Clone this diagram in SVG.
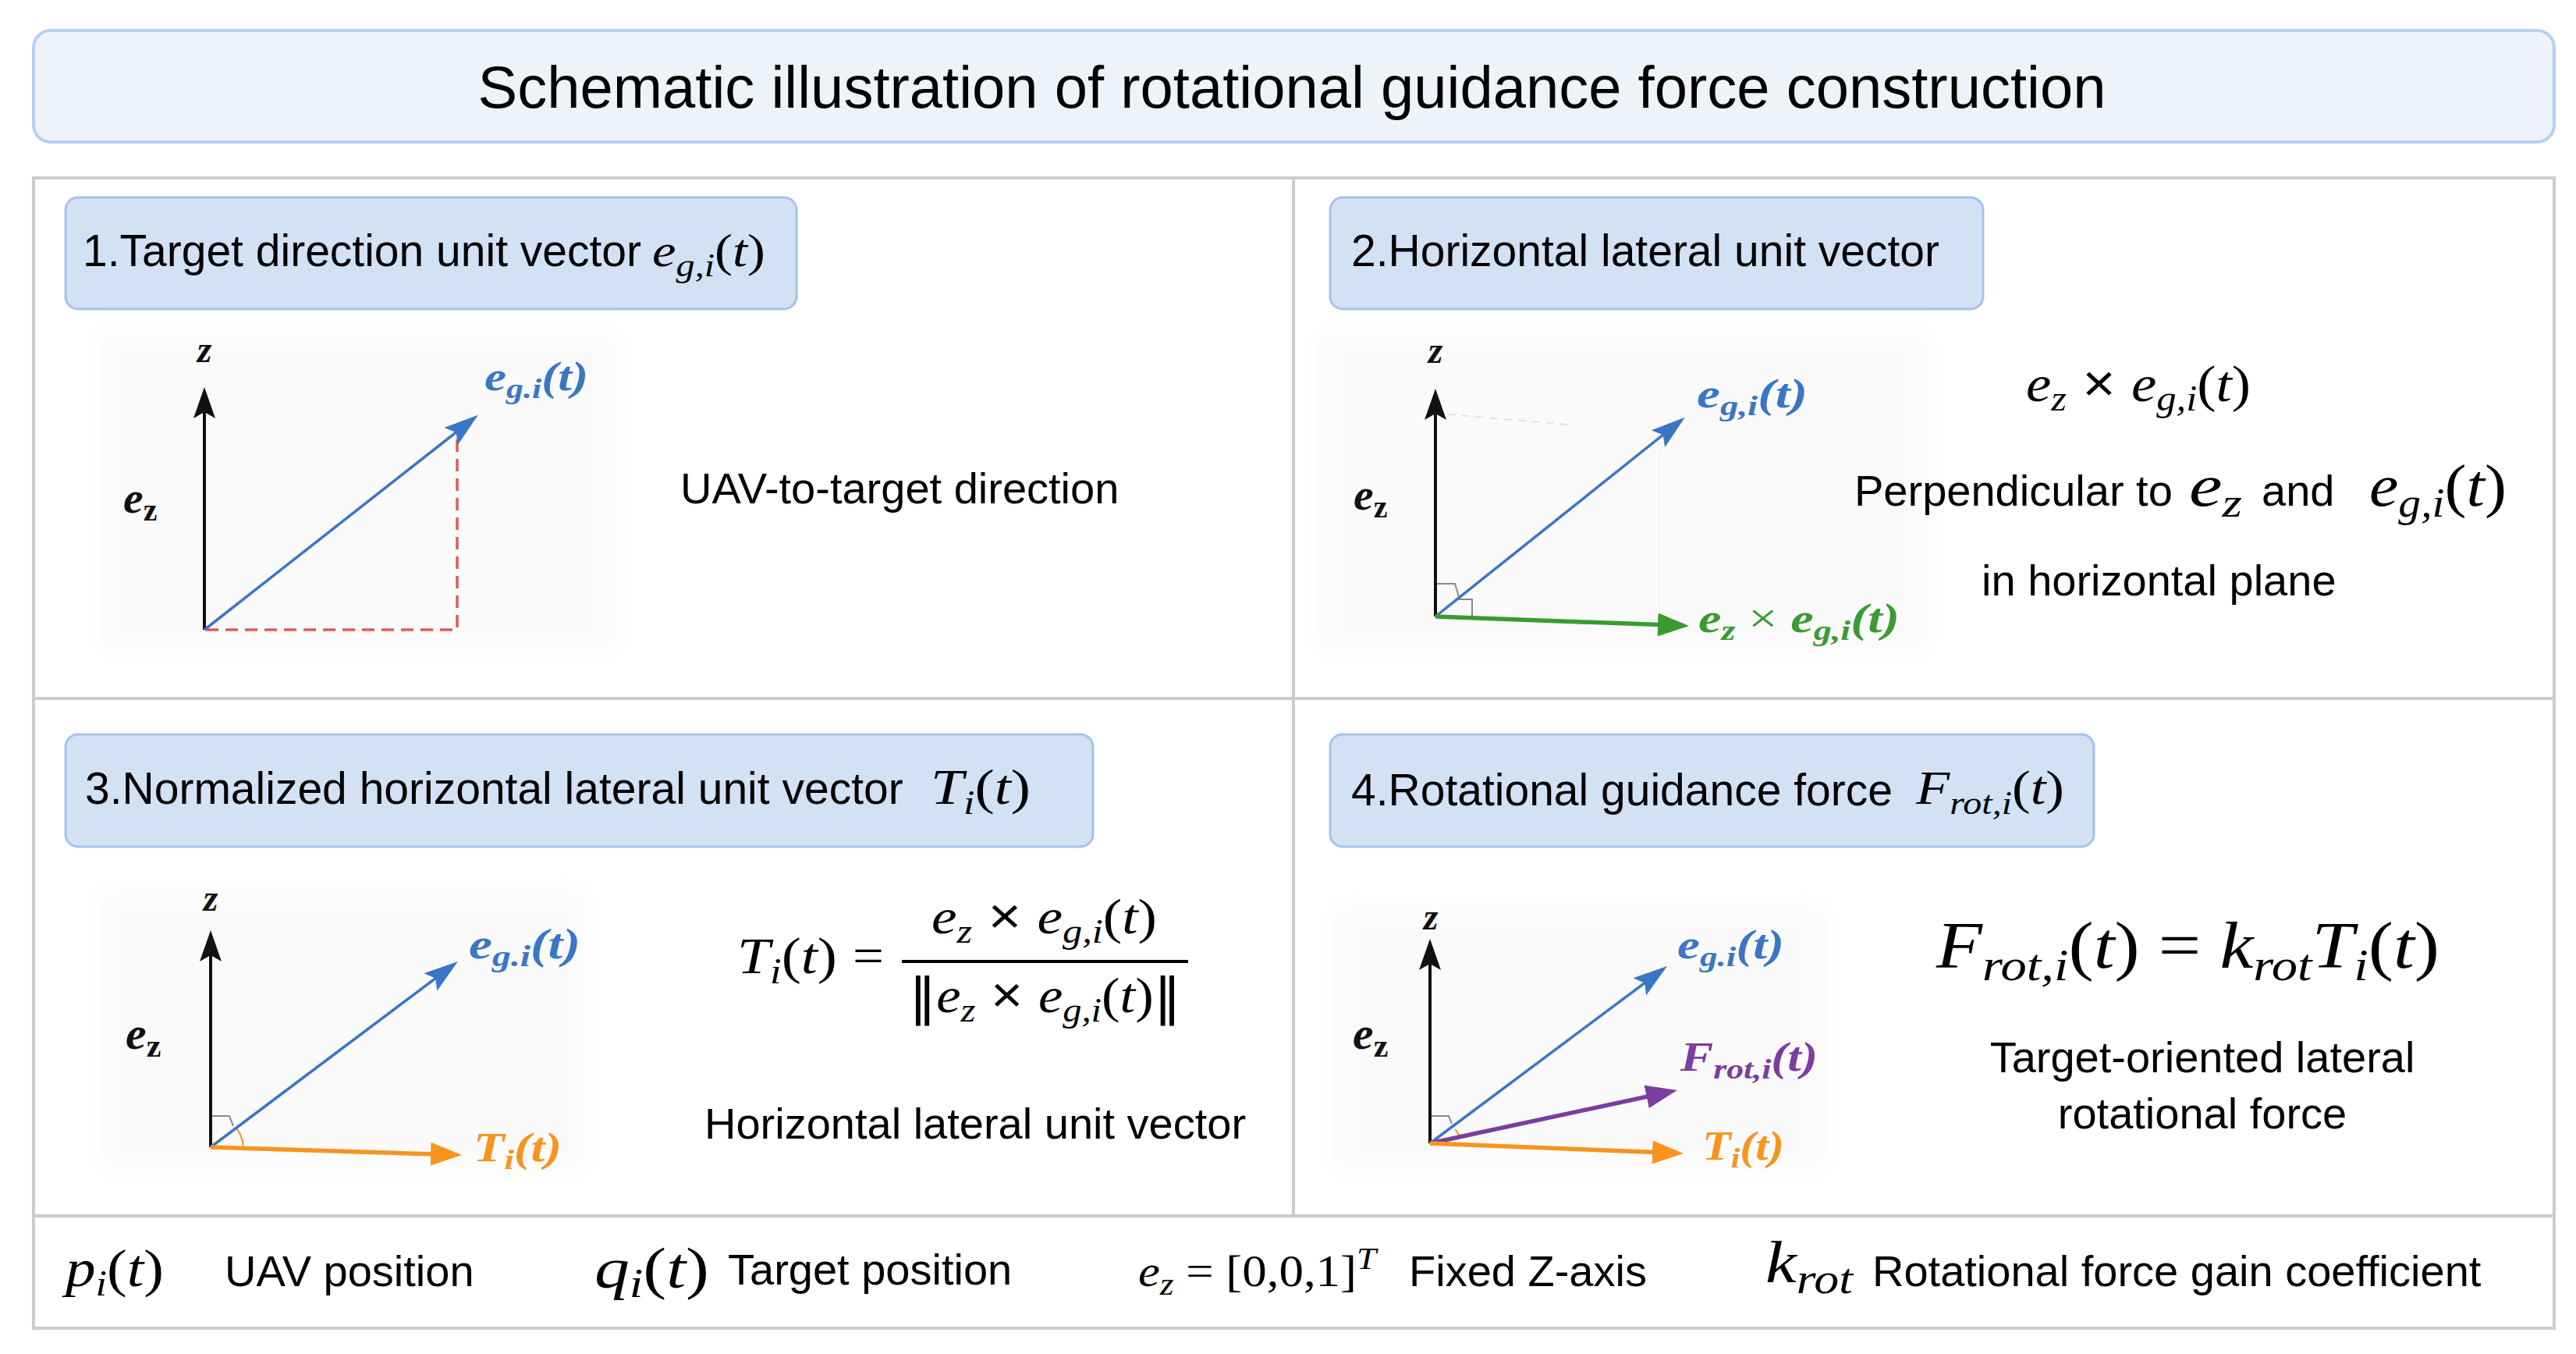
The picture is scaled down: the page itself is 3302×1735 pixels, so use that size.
<svg xmlns="http://www.w3.org/2000/svg" width="3302" height="1735" viewBox="0 0 3302 1735">
<defs>
<style>
.s{font-family:"Liberation Sans",Arial,sans-serif;font-size:56px;fill:#000}
.t{font-family:"Liberation Sans",Arial,sans-serif;font-size:76px;fill:#000}
.h{font-family:"Liberation Sans",Arial,sans-serif;font-size:57px;fill:#000}
.m{font-family:"Liberation Serif","Times New Roman",serif;fill:#000}
.i{font-style:italic}
.lb{font-family:"Liberation Serif","Times New Roman",serif;font-weight:bold;font-style:italic}
.hdr{fill:#d3e1f5;stroke:#a6c2ea;stroke-width:3}
.grid{stroke:#cccccc;stroke-width:4;fill:none}
.ax{stroke:#111;stroke-width:4;fill:none}
.bl{stroke:#3a76c4;stroke-width:3.5;fill:none}
.gr{stroke:#3a9b32;stroke-width:5.5;fill:none}
.or{stroke:#f7941e;stroke-width:5.5;fill:none}
.pu{stroke:#7b3d9e;stroke-width:5.5;fill:none}
.mk{stroke:#888;stroke-width:2;fill:none}
.bg{fill:#fafafa;filter:url(#soft)}
</style>
<filter id="soft" x="-10%" y="-10%" width="120%" height="120%"><feGaussianBlur stdDeviation="14"/></filter>
<marker id="aK" markerUnits="userSpaceOnUse" markerWidth="40" markerHeight="28" refX="30" refY="14" orient="auto"><path d="M0,0 L40,14 L0,28 L8,14 z" fill="#111"/></marker>
<marker id="aB" markerUnits="userSpaceOnUse" markerWidth="44" markerHeight="28" refX="34" refY="14" orient="auto"><path d="M0,0 L44,14 L0,28 L8,14 z" fill="#3a76c4"/></marker>
<marker id="aG" markerUnits="userSpaceOnUse" markerWidth="40" markerHeight="30" refX="30" refY="15" orient="auto"><path d="M0,0 L40,15 L0,30 z" fill="#3a9b32"/></marker>
<marker id="aO" markerUnits="userSpaceOnUse" markerWidth="40" markerHeight="30" refX="30" refY="15" orient="auto"><path d="M0,0 L40,15 L0,30 z" fill="#f7941e"/></marker>
<marker id="aP" markerUnits="userSpaceOnUse" markerWidth="40" markerHeight="30" refX="30" refY="15" orient="auto"><path d="M0,0 L40,15 L0,30 z" fill="#7b3d9e"/></marker>
</defs>
<rect width="3302" height="1735" fill="#ffffff"/>

<g id="title">
<rect x="43" y="39" width="3231" height="143" rx="22" fill="#eef3fa" stroke="#b6d0f3" stroke-width="4"/>
<text class="t" x="1656" y="138" text-anchor="middle">Schematic illustration of rotational guidance force construction</text>
</g>

<g id="frame">
<rect class="grid" x="43" y="228" width="3231" height="1474"/>
<line class="grid" x1="43" y1="895" x2="3274" y2="895" stroke-width="3"/>
<line class="grid" x1="43" y1="1558" x2="3274" y2="1558"/>
<line class="grid" x1="1658" y1="228" x2="1658" y2="1558" stroke-width="3"/>
</g>

<g id="panel1">
<g id="header1">
<rect class="hdr" x="84" y="253" width="937" height="143" rx="16"/>
<text class="h" x="106" y="341">1.Target direction unit vector</text>
<text class="m" x="836" y="341" font-size="60" textLength="145" lengthAdjust="spacingAndGlyphs"><tspan class="i">e</tspan><tspan class="i" font-size="42" dy="13">g,i</tspan><tspan dy="-13">(</tspan><tspan class="i">t</tspan>)</text>
</g>
<rect class="bg" x="130" y="425" width="660" height="410"/>
<g id="diagram1">
<text class="lb" x="262" y="464" font-size="48" text-anchor="middle" fill="#111">z</text>
<text class="lb" x="158" y="657" font-size="58" fill="#111">e<tspan font-size="40" dy="10" font-style="normal">z</tspan></text>
<line class="ax" x1="262" y1="807" x2="262" y2="506" marker-end="url(#aK)"/>
<path d="M264,807 H586 V562" fill="none" stroke="#e05a5a" stroke-width="3.5" stroke-dasharray="16,9"/>
<line class="bl" x1="262" y1="807" x2="605" y2="538" marker-end="url(#aB)"/>
<text class="lb" x="621" y="500" font-size="52" fill="#3a76c4" textLength="133" lengthAdjust="spacingAndGlyphs">e<tspan font-size="36" dy="10">g.i</tspan><tspan dy="-10">(t)</tspan></text>
</g>
<text class="s" x="872" y="645">UAV-to-target direction</text>
</g>

<g id="panel2">
<g id="header2">
<rect class="hdr" x="1705" y="253" width="837" height="143" rx="16"/>
<text class="h" x="1732" y="341">2.Horizontal lateral unit vector</text>
</g>
<rect class="bg" x="1690" y="425" width="780" height="410"/>
<g id="diagram2">
<line x1="1856" y1="531" x2="2010" y2="544" stroke="#e2e2e2" stroke-width="2" stroke-dasharray="10,8"/>
<line x1="2127" y1="575" x2="2127" y2="788" stroke="#efefef" stroke-width="1.5"/>
<text class="lb" x="1840" y="465" font-size="48" text-anchor="middle" fill="#111">z</text>
<text class="lb" x="1735" y="653" font-size="58" fill="#111">e<tspan font-size="40" dy="10" font-style="normal">z</tspan></text>
<path class="mk" d="M1842,748 H1865 L1871,768 H1887 V789"/>
<line class="ax" x1="1840" y1="790" x2="1840" y2="508" marker-end="url(#aK)"/>
<line class="bl" x1="1840" y1="790" x2="2152" y2="541" marker-end="url(#aB)"/>
<line class="gr" x1="1840" y1="790" x2="2155" y2="801.6" marker-end="url(#aG)"/>
<text class="lb" x="2175" y="522" font-size="52" fill="#3a76c4" textLength="142" lengthAdjust="spacingAndGlyphs">e<tspan font-size="36" dy="10">g,i</tspan><tspan dy="-10">(t)</tspan></text>
<text class="lb" x="2177" y="810" font-size="52" fill="#3a9b32" textLength="258" lengthAdjust="spacingAndGlyphs">e<tspan font-size="36" dy="10">z</tspan><tspan dy="-10" font-style="normal" font-weight="normal"> × </tspan>e<tspan font-size="36" dy="10">g,i</tspan><tspan dy="-10">(t)</tspan></text>
</g>
<text class="m" x="2597" y="514" font-size="66" textLength="288" lengthAdjust="spacingAndGlyphs"><tspan class="i">e</tspan><tspan class="i" font-size="46" dy="12">z</tspan><tspan dy="-12" font-family="Liberation Sans, Arial, sans-serif"> × </tspan><tspan class="i">e</tspan><tspan class="i" font-size="46" dy="12">g,i</tspan><tspan dy="-12">(</tspan><tspan class="i">t</tspan>)</text>
<text class="s" x="2377" y="648">Perpendicular to</text>
<text class="m" x="2806" y="648" font-size="76" textLength="68" lengthAdjust="spacingAndGlyphs"><tspan class="i">e</tspan><tspan class="i" font-size="52" dy="14">z</tspan></text>
<text class="s" x="2899" y="648">and</text>
<text class="m" x="3037" y="648" font-size="76" textLength="176" lengthAdjust="spacingAndGlyphs"><tspan class="i">e</tspan><tspan class="i" font-size="52" dy="14">g,i</tspan><tspan dy="-14">(</tspan><tspan class="i">t</tspan>)</text>
<text class="s" x="2540" y="763">in horizontal plane</text>
</g>

<g id="panel3">
<g id="header3">
<rect class="hdr" x="84" y="941" width="1317" height="144" rx="16"/>
<text class="h" x="109" y="1030">3.Normalized horizontal lateral unit vector</text>
<text class="m" x="1193" y="1030" font-size="64" textLength="128" lengthAdjust="spacingAndGlyphs"><tspan class="i">T</tspan><tspan class="i" font-size="44" dy="13">i</tspan><tspan dy="-13">(</tspan><tspan class="i">t</tspan>)</text>
</g>
<rect class="bg" x="130" y="1140" width="620" height="360"/>
<g id="diagram3">
<text class="lb" x="270" y="1167" font-size="48" text-anchor="middle" fill="#111">z</text>
<text class="lb" x="161" y="1344" font-size="60" fill="#111">e<tspan font-size="42" dy="10" font-style="normal">z</tspan></text>
<path class="mk" d="M271,1430 H294 L299,1443"/>
<path d="M303,1446 A41,41 0 0 1 312,1470" fill="none" stroke="#f7941e" stroke-width="2"/>
<line class="ax" x1="270" y1="1470" x2="270" y2="1202" marker-end="url(#aK)"/>
<line class="bl" x1="270" y1="1470" x2="579" y2="1238" marker-end="url(#aB)"/>
<line class="or" x1="270" y1="1470" x2="582" y2="1479.7" marker-end="url(#aO)"/>
<text class="lb" x="601" y="1228" font-size="54" fill="#3a76c4" textLength="143" lengthAdjust="spacingAndGlyphs">e<tspan font-size="38" dy="10">g.i</tspan><tspan dy="-10">(t)</tspan></text>
<text class="lb" x="607" y="1488" font-size="52" fill="#f7941e" textLength="113" lengthAdjust="spacingAndGlyphs">T<tspan font-size="36" dy="10">i</tspan><tspan dy="-10">(t)</tspan></text>
</g>
<g id="formula3">
<text class="m" x="945" y="1247" font-size="66" textLength="128" lengthAdjust="spacingAndGlyphs"><tspan class="i">T</tspan><tspan class="i" font-size="46" dy="13">i</tspan><tspan dy="-13">(</tspan><tspan class="i">t</tspan>)</text>
<text class="m" x="1093" y="1247" font-size="66" textLength="40" lengthAdjust="spacingAndGlyphs">=</text>
<line x1="1156" y1="1232" x2="1523" y2="1232" stroke="#000" stroke-width="4"/>
<text class="m" x="1194" y="1196" font-size="64" textLength="289" lengthAdjust="spacingAndGlyphs"><tspan class="i">e</tspan><tspan class="i" font-size="44" dy="12">z</tspan><tspan dy="-12" font-family="Liberation Sans, Arial, sans-serif"> × </tspan><tspan class="i">e</tspan><tspan class="i" font-size="44" dy="12">g,i</tspan><tspan dy="-12">(</tspan><tspan class="i">t</tspan>)</text>
<text class="m" x="1165" y="1297" font-size="64" textLength="349" lengthAdjust="spacingAndGlyphs"><tspan font-family="DejaVu Sans, sans-serif" font-size="64" dy="2">‖</tspan><tspan class="i" dy="-2">e</tspan><tspan class="i" font-size="44" dy="12">z</tspan><tspan dy="-12" font-family="Liberation Sans, Arial, sans-serif"> × </tspan><tspan class="i">e</tspan><tspan class="i" font-size="44" dy="12">g,i</tspan><tspan dy="-12">(</tspan><tspan class="i">t</tspan>)<tspan font-family="DejaVu Sans, sans-serif" font-size="64" dy="2">‖</tspan></text>
</g>
<text class="s" x="903" y="1459">Horizontal lateral unit vector</text>
</g>

<g id="panel4">
<g id="header4">
<rect class="hdr" x="1705" y="941" width="979" height="144" rx="16"/>
<text class="h" x="1732" y="1032">4.Rotational guidance force</text>
<text class="m" x="2456" y="1030" font-size="62" textLength="190" lengthAdjust="spacingAndGlyphs"><tspan class="i">F</tspan><tspan class="i" font-size="42" dy="13">rot,i</tspan><tspan dy="-13">(</tspan><tspan class="i">t</tspan>)</text>
</g>
<rect class="bg" x="1710" y="1160" width="630" height="340"/>
<g id="diagram4">
<text class="lb" x="1834" y="1191" font-size="48" text-anchor="middle" fill="#111">z</text>
<text class="lb" x="1734" y="1344" font-size="60" fill="#111">e<tspan font-size="42" dy="10" font-style="normal">z</tspan></text>
<path class="mk" d="M1835,1430 H1857 L1861,1440"/>
<path d="M1865,1447 A35,35 0 0 1 1871,1456" fill="none" stroke="#f7941e" stroke-width="2"/>
<line class="ax" x1="1833" y1="1465" x2="1833" y2="1213" marker-end="url(#aK)"/>
<line class="bl" x1="1833" y1="1465" x2="2129" y2="1244" marker-end="url(#aB)"/>
<line class="pu" x1="1833" y1="1465" x2="2140" y2="1399" marker-end="url(#aP)"/>
<line class="or" x1="1833" y1="1465" x2="2148" y2="1477.6" marker-end="url(#aO)"/>
<text class="lb" x="2150" y="1228" font-size="52" fill="#3a76c4" textLength="137" lengthAdjust="spacingAndGlyphs">e<tspan font-size="36" dy="10">g.i</tspan><tspan dy="-10">(t)</tspan></text>
<text class="lb" x="2154" y="1372" font-size="52" fill="#7b3d9e" textLength="176" lengthAdjust="spacingAndGlyphs">F<tspan font-size="36" dy="10">rot,i</tspan><tspan dy="-10">(t)</tspan></text>
<text class="lb" x="2182" y="1486" font-size="52" fill="#f7941e" textLength="105" lengthAdjust="spacingAndGlyphs">T<tspan font-size="36" dy="10">i</tspan><tspan dy="-10">(t)</tspan></text>
</g>
<text class="m" x="2482" y="1240" font-size="84" textLength="645" lengthAdjust="spacingAndGlyphs"><tspan class="i">F</tspan><tspan class="i" font-size="58" dy="16">rot,i</tspan><tspan dy="-16">(</tspan><tspan class="i">t</tspan>) = <tspan class="i">k</tspan><tspan class="i" font-size="58" dy="16">rot</tspan><tspan class="i" dy="-16">T</tspan><tspan class="i" font-size="58" dy="16">i</tspan><tspan dy="-16">(</tspan><tspan class="i">t</tspan>)</text>
<text class="s" x="2823" y="1374" text-anchor="middle">Target-oriented lateral</text>
<text class="s" x="2823" y="1446" text-anchor="middle">rotational force</text>
</g>

<g id="legend">
<text class="m" x="84" y="1648" font-size="68" textLength="126" lengthAdjust="spacingAndGlyphs"><tspan class="i">p</tspan><tspan class="i" font-size="46" dy="12">i</tspan><tspan dy="-12">(</tspan><tspan class="i">t</tspan>)</text>
<text class="s" x="288" y="1648">UAV position</text>
<text class="m" x="762" y="1650" font-size="74" textLength="147" lengthAdjust="spacingAndGlyphs"><tspan class="i">q</tspan><tspan class="i" font-size="52" dy="12">i</tspan><tspan dy="-12">(</tspan><tspan class="i">t</tspan>)</text>
<text class="s" x="933" y="1646">Target position</text>
<text class="m" x="1459" y="1648" font-size="56" textLength="305" lengthAdjust="spacingAndGlyphs"><tspan class="i">e</tspan><tspan class="i" font-size="40" dy="11">z</tspan><tspan dy="-11"> = [0,0,1]</tspan><tspan class="i" font-size="40" dy="-22">T</tspan></text>
<text class="s" x="1806" y="1648">Fixed Z-axis</text>
<text class="m" x="2263" y="1643" font-size="76" textLength="112" lengthAdjust="spacingAndGlyphs"><tspan class="i">k</tspan><tspan class="i" font-size="54" dy="14">rot</tspan></text>
<text class="s" x="2400" y="1648">Rotational force gain coefficient</text>
</g>
</svg>
